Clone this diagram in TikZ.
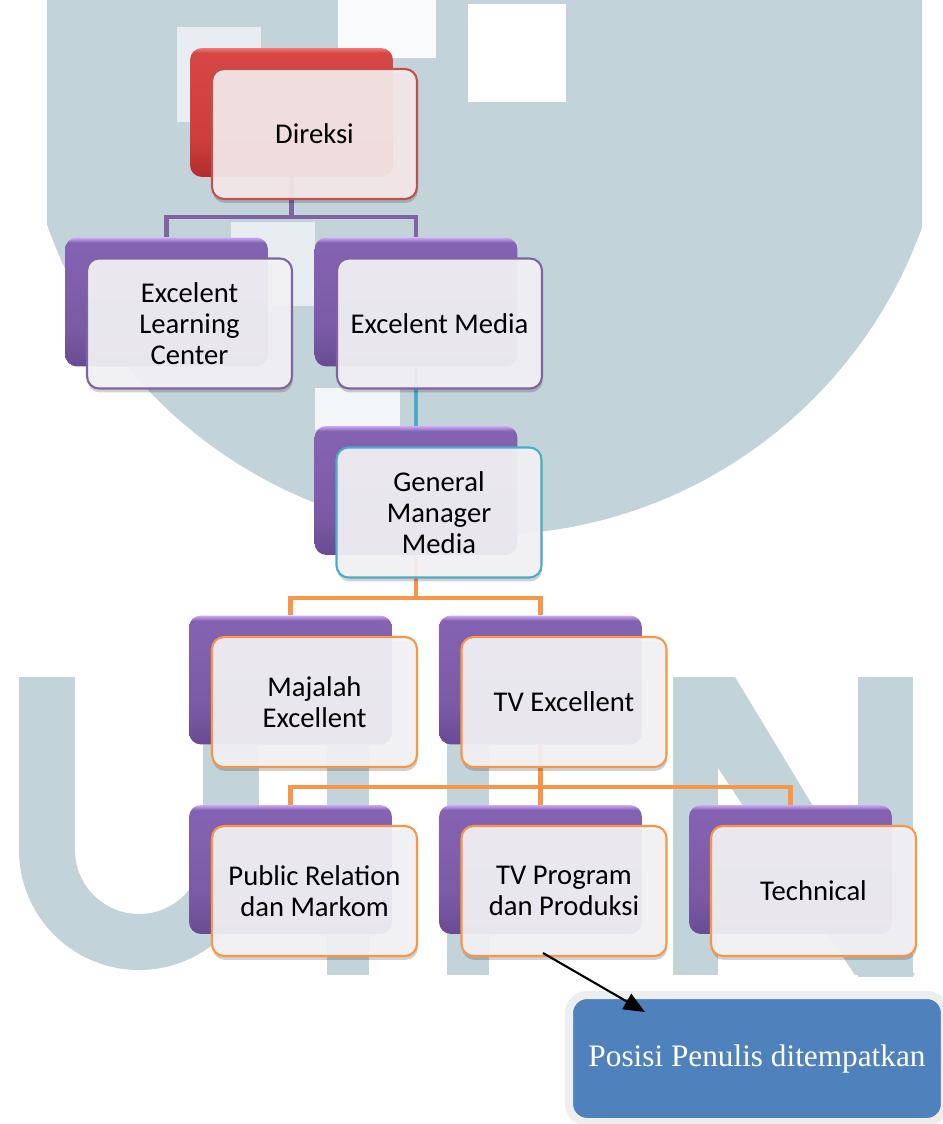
\documentclass[tikz,border=0pt]{standalone}
\usepackage{fontspec}
\newfontfamily\calfont{Carlito}
\newfontfamily\serffont{Liberation Serif}
\usetikzlibrary{shadows,calc,arrows.meta}
\definecolor{wm}{RGB}{195,211,218}
\definecolor{purpc}{RGB}{128,100,162}
\definecolor{tealc}{RGB}{75,172,198}
\definecolor{orc}{RGB}{247,150,70}
\definecolor{redc}{RGB}{192,80,77}
\definecolor{ptop}{RGB}{205,170,245}
\definecolor{pmid2}{RGB}{132,98,178}
\definecolor{pmid}{RGB}{122,90,164}
\definecolor{pbot}{RGB}{104,76,146}
\definecolor{rtop}{RGB}{240,120,120}
\definecolor{rmid2}{RGB}{214,70,68}
\definecolor{rmid}{RGB}{205,62,60}
\definecolor{rbot}{RGB}{180,45,45}
\definecolor{frontfill}{RGB}{244,243,246}
\definecolor{frontpink}{RGB}{246,234,235}
\definecolor{posblue}{RGB}{79,129,189}
\definecolor{posgrey}{RGB}{238,238,238}
\pgfdeclareverticalshading{pshade}{100bp}{color(0bp)=(pbot); color(25bp)=(pbot); color(40bp)=(pmid); color(71bp)=(pmid2); color(73bp)=(pmid2); color(75bp)=(ptop); color(100bp)=(ptop)}
\pgfdeclareverticalshading{rshade}{100bp}{color(0bp)=(rbot); color(25bp)=(rbot); color(40bp)=(rmid); color(71bp)=(rmid2); color(73bp)=(rmid2); color(75bp)=(rtop); color(100bp)=(rtop)}
\pgfdeclarelayer{wmlayer}
\pgfdeclarelayer{conn}
\pgfsetlayers{wmlayer,conn,main}
\tikzset{
  backbox/.style={rectangle, rounded corners=0.24cm, minimum width=4.06cm, minimum height=2.58cm, inner sep=0pt, shading=pshade},
  backred/.style={backbox, shading=rshade},
  frontbox/.style={rectangle, rounded corners=0.24cm, minimum width=4.1cm, minimum height=2.6cm, inner sep=2pt,
    fill=frontfill, fill opacity=0.93, text opacity=1, draw=#1, line width=1.2pt,
    font=\calfont\fontsize{16.3}{17.6}\selectfont, align=center, text=black,
    drop shadow={shadow xshift=0.4pt, shadow yshift=-2.2pt, opacity=0.18, fill=black}},
  connline/.style={line width=2.3pt},
}
\begin{document}
\begin{tikzpicture}[x=0.02cm,y=-0.02cm]
\useasboundingbox (0,0) rectangle (942,1124);

% nodes
\node[backred] (dirb) at (291.5,112.5) {};
\node[frontbox=redc, fill=frontpink] (dir) at (314.5,134) {Direksi};

\node[backbox] (elcb) at (166.5,302) {};
\node[frontbox=purpc] (elc) at (189.5,323.5) {Excelent\\Learning\\Center};
\node[backbox] (emb) at (416,302) {};
\node[frontbox=purpc] (em) at (439.5,323.5) {Excelent Media};

\node[backbox] (gmb) at (416,490.5) {};
\node[frontbox=tealc] (gm) at (439,512.5) {General\\Manager\\Media};

\node[backbox] (majb) at (290.5,680) {};
\node[frontbox=orc] (maj) at (314.5,702) {Majalah\\Excellent};
\node[backbox] (tveb) at (540.5,680) {};
\node[frontbox=orc] (tve) at (564,702) {TV Excellent};

\node[backbox] (prb) at (290.5,869.5) {};
\node[frontbox=orc] (pr) at (314.5,891) {Public Relation\\dan Markom};
\node[backbox] (tvpb) at (540.5,869.5) {};
\node[frontbox=orc] (tvp) at (564,891) {TV Program\\dan Produksi};
\node[backbox] (techb) at (790.5,869.5) {};
\node[frontbox=orc] (tech) at (813.5,891) {Technical};

\node[rectangle, rounded corners=0.36cm, fill=posblue, draw=posgrey, line width=0.16cm,
  minimum width=7.52cm, minimum height=2.54cm, inner sep=0pt, text=white,
  font=\serffont\fontsize{17.8}{21}\selectfont,
  drop shadow={shadow xshift=0pt, shadow yshift=-2pt, opacity=0.25, fill=black}] (pos) at (757,1058.5) {Posisi Penulis ditempatkan};

\draw[line width=1.2pt, -{Triangle[length=12pt,width=10pt]}] ($(tvp.center)+(-21,62)$) -- ($(pos.center)+(-112,-46.5)$);

% connectors
\begin{pgfonlayer}{conn}
\draw[purpc, connline] (dirb.south) -- ++(0,40) -| (elcb.north);
\draw[purpc, connline] (dirb.south) -- ++(0,40) -| (emb.north);
\draw[tealc, connline] (emb.south) -- (gmb.north);
\draw[orc, connline] (gmb.south) -- ++(0,43) -| (majb.north);
\draw[orc, connline] (gmb.south) -- ++(0,43) -| (tveb.north);
\draw[orc, connline] (tveb.south) -- ++(0,42) -| (prb.north);
\draw[orc, connline] (tveb.south) -- ++(0,42) -| (tvpb.north);
\draw[orc, connline] (tveb.south) -- ++(0,42) -| (techb.north);
\end{pgfonlayer}

% watermark
\begin{pgfonlayer}{wmlayer}
\fill[white] (0,0) rectangle (942,1124);
\begin{scope}
\clip (47,-5) rectangle (922,600);
\fill[wm] (485,71) circle [radius=464];
\end{scope}
\fill[white] (468,4) rectangle (566,102);
\fill[white!88!wm] (338,-2) rectangle (436,58);
\fill[white!60!wm] (177,27) rectangle (261,122);
\fill[white!60!wm] (231,222) rectangle (315,306);
\fill[white!80!wm] (315,388) rectangle (400,430);
\draw[wm, line width=1.12cm] (47,677) -- (47,850) arc[start angle=180, end angle=0, radius=92] -- (231,677);
\fill[wm] (327,677) rectangle (369,975);
\fill[wm] (447,677) rectangle (489,975);
\fill[wm] (673,677) rectangle (718,975);
\fill[wm] (858,677) rectangle (913,977);
\fill[wm] (673,677) -- (735,677) -- (915,975) -- (855,975) -- (673,700) -- cycle;
\end{pgfonlayer}
\end{tikzpicture}
\end{document}
